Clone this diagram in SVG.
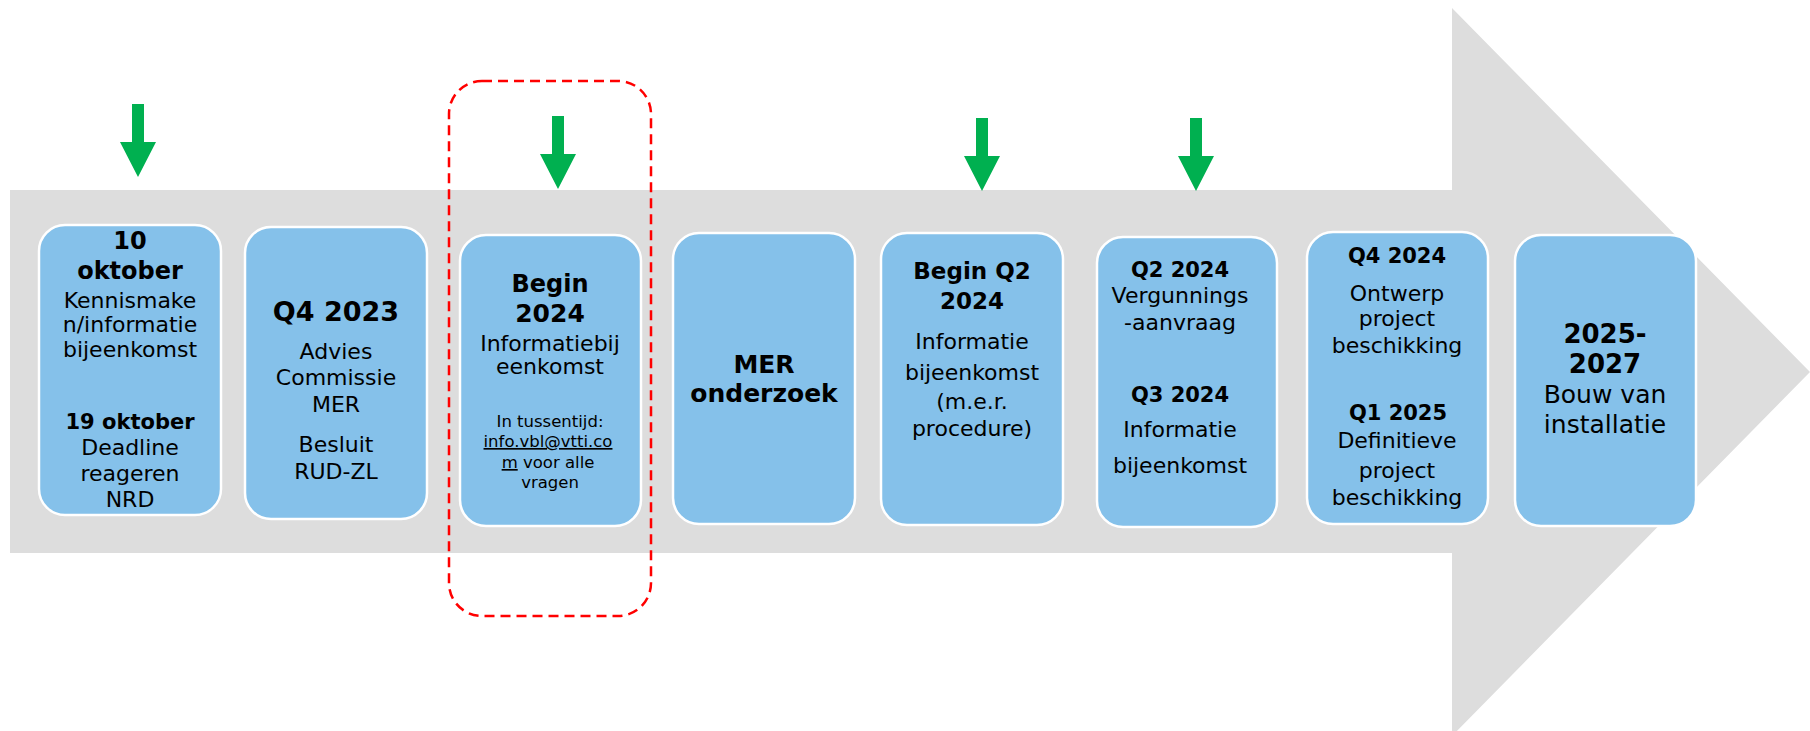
<svg xmlns="http://www.w3.org/2000/svg" width="1810" height="731" viewBox="0 0 1810 731">
<defs>
<style>
.box{fill:#85C1EA;stroke:#FFFFFF;stroke-width:2.5}
text{font-family:"DejaVu Sans","Liberation Sans",sans-serif;fill:#000;text-anchor:middle}
.b{font-weight:bold}
.n{font-size:22px}
.s{font-size:16.5px}
.g{fill:#00B050}
</style>
<path id="garrow" d="M-6,-73 H6 V-35 H18 L0,0 L-18,-35 H-6 Z"/>
</defs>
<rect width="1810" height="731" fill="#FFFFFF"/>
<g id="timeline">
<path d="M10,190 H1452 V8 L1810,372 L1452,736 V553 H10 Z" fill="#DDDDDD"/>
</g>
<g id="highlight">
<rect x="449" y="81" width="202" height="535" rx="33" ry="33" fill="none" stroke="#FF0000" stroke-width="2.5" stroke-dasharray="10,6"/>
</g>
<g id="connectors" class="g">
<use href="#garrow" x="138" y="177"/>
<use href="#garrow" x="558" y="189"/>
<use href="#garrow" x="982" y="191"/>
<use href="#garrow" x="1196" y="191"/>
</g>
<g id="node1">
<rect class="box" x="39" y="225" width="182" height="290" rx="26"/>
<text class="b" font-size="24" x="130" y="249">10</text>
<text class="b" font-size="24" x="130" y="279">oktober</text>
<text class="n" x="130" y="308">Kennismake</text>
<text class="n" x="130" y="332">n/informatie</text>
<text class="n" x="130" y="357">bijeenkomst</text>
<text class="b" font-size="21" x="130" y="429">19 oktober</text>
<text class="n" x="130" y="455">Deadline</text>
<text class="n" x="130" y="481">reageren</text>
<text class="n" x="130" y="507">NRD</text>
</g>
<g id="node2">
<rect class="box" x="245" y="227" width="182" height="292" rx="26"/>
<text class="b" font-size="27" x="336" y="321">Q4 2023</text>
<text class="n" x="336" y="359">Advies</text>
<text class="n" x="336" y="385">Commissie</text>
<text class="n" x="336" y="412">MER</text>
<text class="n" x="336" y="452">Besluit</text>
<text class="n" x="336" y="479">RUD-ZL</text>
</g>
<g id="node3">
<rect class="box" x="460" y="235" width="181" height="291" rx="26"/>
<text class="b" font-size="24" x="550" y="292">Begin</text>
<text class="b" font-size="25" x="550" y="322">2024</text>
<text class="n" x="550" y="351">Informatiebij</text>
<text class="n" x="550" y="374">eenkomst</text>
<text class="s" x="550" y="427">In tussentijd:</text>
<text class="s" x="548" y="447" text-decoration="underline">info.vbl@vtti.co</text>
<text class="s" x="548" y="468"><tspan text-decoration="underline">m</tspan> voor  alle</text>
<text class="s" x="550" y="488">vragen</text>
</g>
<g id="node4">
<rect class="box" x="673" y="233" width="182" height="291" rx="26"/>
<text class="b" font-size="25" x="764" y="373">MER</text>
<text class="b" font-size="25" x="764" y="402">onderzoek</text>
</g>
<g id="node5">
<rect class="box" x="881" y="233" width="182" height="292" rx="26"/>
<text class="b" font-size="23" x="972" y="279">Begin Q2</text>
<text class="b" font-size="23" x="972" y="309">2024</text>
<text class="n" x="972" y="349">Informatie</text>
<text class="n" x="972" y="380">bijeenkomst</text>
<text class="n" x="972" y="409">(m.e.r.</text>
<text class="n" x="972" y="436">procedure)</text>
</g>
<g id="node6">
<rect class="box" x="1097" y="237" width="180" height="290" rx="26"/>
<text class="b" font-size="21" x="1180" y="277">Q2 2024</text>
<text class="n" x="1180" y="303">Vergunnings</text>
<text class="n" x="1180" y="330">-aanvraag</text>
<text class="b" font-size="21" x="1180" y="402">Q3 2024</text>
<text class="n" x="1180" y="437">Informatie</text>
<text class="n" x="1180" y="473">bijeenkomst</text>
</g>
<g id="node7">
<rect class="box" x="1307" y="232" width="181" height="292" rx="26"/>
<text class="b" font-size="21" x="1397" y="263">Q4 2024</text>
<text class="n" x="1397" y="301">Ontwerp</text>
<text class="n" x="1397" y="326">project</text>
<text class="n" x="1397" y="353">beschikking</text>
<text class="b" font-size="21" x="1398" y="420">Q1 2025</text>
<text class="n" x="1397" y="448">Definitieve</text>
<text class="n" x="1397" y="478">project</text>
<text class="n" x="1397" y="505">beschikking</text>
</g>
<g id="node8">
<rect class="box" x="1515" y="235" width="181" height="291" rx="26"/>
<text class="b" font-size="26" x="1605" y="343">2025-</text>
<text class="b" font-size="26" x="1605" y="373">2027</text>
<text font-size="25" x="1605" y="403">Bouw van</text>
<text font-size="25" x="1605" y="433">installatie</text>
</g>
</svg>
